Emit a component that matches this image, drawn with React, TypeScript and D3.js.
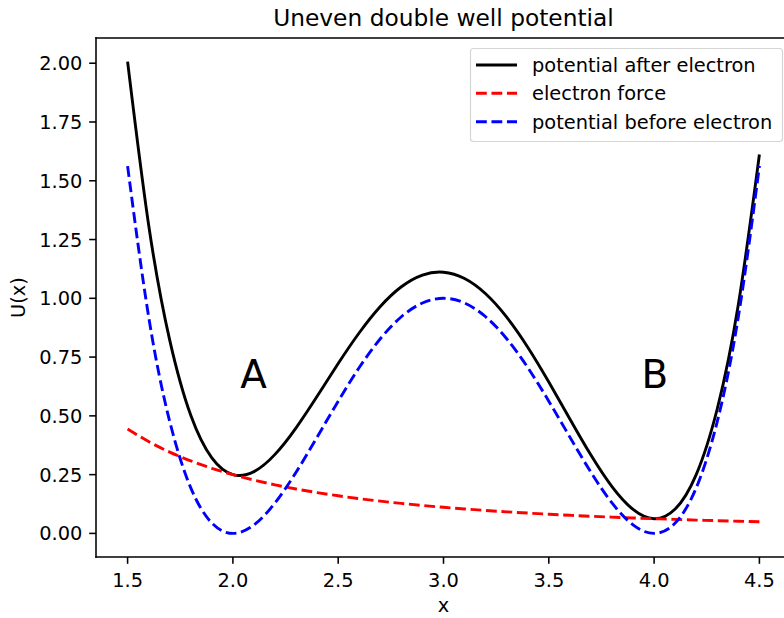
import React from "react";
import * as d3 from "d3";

// Sample positions along x
const xs = [
  1.5, 1.6, 1.7, 1.8, 1.9, 2.0, 2.1, 2.2, 2.3, 2.4, 2.5, 2.6, 2.7, 2.8, 2.9, 3.0,
  3.1, 3.2, 3.3, 3.4, 3.5, 3.6, 3.7, 3.8, 3.9, 4.0, 4.1, 4.2, 4.3, 4.4, 4.5,
];

// Potential after the electron arrives (solid black)
const afterElectron = [
  2.0069, 1.3122, 0.8221, 0.5022, 0.3211, 0.25, 0.2629, 0.3362, 0.4491, 0.5832,
  0.7225, 0.8535, 0.9653, 1.0492, 1.099, 1.1111, 1.0842, 1.0193, 0.9199, 0.7921,
  0.6441, 0.4868, 0.3331, 0.1989, 0.1018, 0.0625, 0.1036, 0.2503, 0.5302, 0.9733,
  1.6119,
];

// Electron force term (red dashed)
const electronForce = [
  0.4444, 0.3906, 0.346, 0.3086, 0.277, 0.25, 0.2268, 0.2066, 0.189, 0.1736,
  0.16, 0.1479, 0.1372, 0.1276, 0.1189, 0.1111, 0.1041, 0.0977, 0.0918, 0.0865,
  0.0816, 0.0772, 0.073, 0.0693, 0.0657, 0.0625, 0.0595, 0.0567, 0.0541, 0.0517,
  0.0494,
];

// Symmetric double well before the electron (blue dashed)
const beforeElectron = [
  1.5625, 0.9216, 0.4761, 0.1936, 0.0441, 0.0, 0.0361, 0.1296, 0.2601, 0.4096,
  0.5625, 0.7056, 0.8281, 0.9216, 0.9801, 1.0, 0.9801, 0.9216, 0.8281, 0.7056,
  0.5625, 0.4096, 0.2601, 0.1296, 0.0361, 0.0, 0.0441, 0.1936, 0.4761, 0.9216,
  1.5625,
];

const xTicks = [1.5, 2.0, 2.5, 3.0, 3.5, 4.0, 4.5];
const yTicks = [0, 0.25, 0.5, 0.75, 1.0, 1.25, 1.5, 1.75, 2.0];

const seriesNames = ["potential after electron", "electron force", "potential before electron"];

// Well labels: [text, x, y]
const wellLabels: [string, number, number][] = [
  ["A", 2.035, 0.62],
  ["B", 3.94, 0.62],
];

const W = 784;
const H = 618;
const FONT = "'DejaVu Sans', sans-serif";

export default function App() {
  const left = 96;
  const right = 791;
  const top = 38;
  const bottom = 557;

  const allY = [...afterElectron, ...electronForce, ...beforeElectron];
  const xMin = d3.min(xs)!;
  const xMax = d3.max(xs)!;
  const yMin = d3.min(allY)!;
  const yMax = d3.max(allY)!;
  const xPad = (xMax - xMin) * 0.05;
  const yPad = (yMax - yMin) * 0.05;

  const x = d3.scaleLinear().domain([xMin - xPad, xMax + xPad]).range([left, right]);
  const y = d3.scaleLinear().domain([yMin - yPad, yMax + yPad]).range([bottom, top]);

  const line = (vals: number[]) =>
    d3
      .line<number>()
      .x((_, i) => x(xs[i]))
      .y((v) => y(v))
      .curve(d3.curveNatural)(vals) as string;

  const series = [
    { name: seriesNames[0], vals: afterElectron, color: "#000000", dash: undefined },
    { name: seriesNames[1], vals: electronForce, color: "#ff0000", dash: "10.8 4.67" },
    { name: seriesNames[2], vals: beforeElectron, color: "#0000ff", dash: "10.8 4.67" },
  ];

  const tickLen = 6.8;
  const fs = 19.4;

  const legX = 470.5;
  const legY = 48.5;
  const legRows = [65, 93.3, 121.7];

  return (
    <svg
      width={W}
      height={H}
      style={{ position: "absolute", left: 0, top: 0, background: "#fff" }}
      fontFamily={FONT}
    >
      <rect x={0} y={0} width={W} height={H} fill="#fff" />
      <defs>
        <clipPath id="plot-clip">
          <rect x={left} y={top} width={right - left} height={bottom - top} />
        </clipPath>
      </defs>

      <g clipPath="url(#plot-clip)">
        {series.map((s) => (
          <path
            key={s.name}
            d={line(s.vals)}
            fill="none"
            stroke={s.color}
            strokeWidth={2.9}
            strokeDasharray={s.dash}
          />
        ))}
      </g>

      {wellLabels.map(([t, lx, ly]) => (
        <text key={t} x={x(lx)} y={y(ly)} fontSize={38.9} fill="#000">
          {t}
        </text>
      ))}

      {/* spines */}
      <g stroke="#000" strokeWidth={1.56} fill="none" strokeLinecap="square">
        <line x1={left} y1={top} x2={left} y2={bottom} />
        <line x1={left} y1={bottom} x2={right} y2={bottom} />
        <line x1={left} y1={top} x2={right} y2={top} />
        <line x1={right} y1={top} x2={right} y2={bottom} />
      </g>

      {/* x ticks */}
      {xTicks.map((t) => (
        <g key={"x" + t}>
          <line x1={x(t)} x2={x(t)} y1={bottom} y2={bottom + tickLen} stroke="#000" strokeWidth={1.56} />
          <text x={x(t)} y={bottom + 30} textAnchor="middle" fontSize={fs} fill="#000">
            {d3.format(".1f")(t)}
          </text>
        </g>
      ))}

      {/* y ticks */}
      {yTicks.map((t) => (
        <g key={"y" + t}>
          <line x1={left - tickLen} x2={left} y1={y(t)} y2={y(t)} stroke="#000" strokeWidth={1.56} />
          <text x={left - tickLen - 6.8} y={y(t) + 7} textAnchor="end" fontSize={fs} fill="#000">
            {d3.format(".2f")(t)}
          </text>
        </g>
      ))}

      {/* axis labels and title */}
      <text x={(left + right) / 2} y={612} textAnchor="middle" fontSize={fs} fill="#000">
        x
      </text>
      <text
        transform={`translate(24.5, ${(top + bottom) / 2}) rotate(-90)`}
        textAnchor="middle"
        fontSize={fs}
        fill="#000"
      >
        U(x)
      </text>
      <text x={(left + right) / 2} y={26.3} textAnchor="middle" fontSize={23.3} fill="#000">
        Uneven double well potential
      </text>

      {/* legend */}
      <rect
        x={legX}
        y={legY}
        width={312}
        height={93}
        rx={3}
        fill="#fff"
        fillOpacity={0.8}
        stroke="#cccccc"
        strokeOpacity={0.8}
        strokeWidth={1.2}
      />
      {series.map((s, i) => (
        <g key={"leg" + i}>
          <line
            x1={476}
            x2={517}
            y1={legRows[i]}
            y2={legRows[i]}
            stroke={s.color}
            strokeWidth={2.9}
            strokeDasharray={s.dash}
          />
          <text x={532} y={legRows[i] + 6.8} fontSize={fs} fill="#000">
            {s.name}
          </text>
        </g>
      ))}
    </svg>
  );
}
